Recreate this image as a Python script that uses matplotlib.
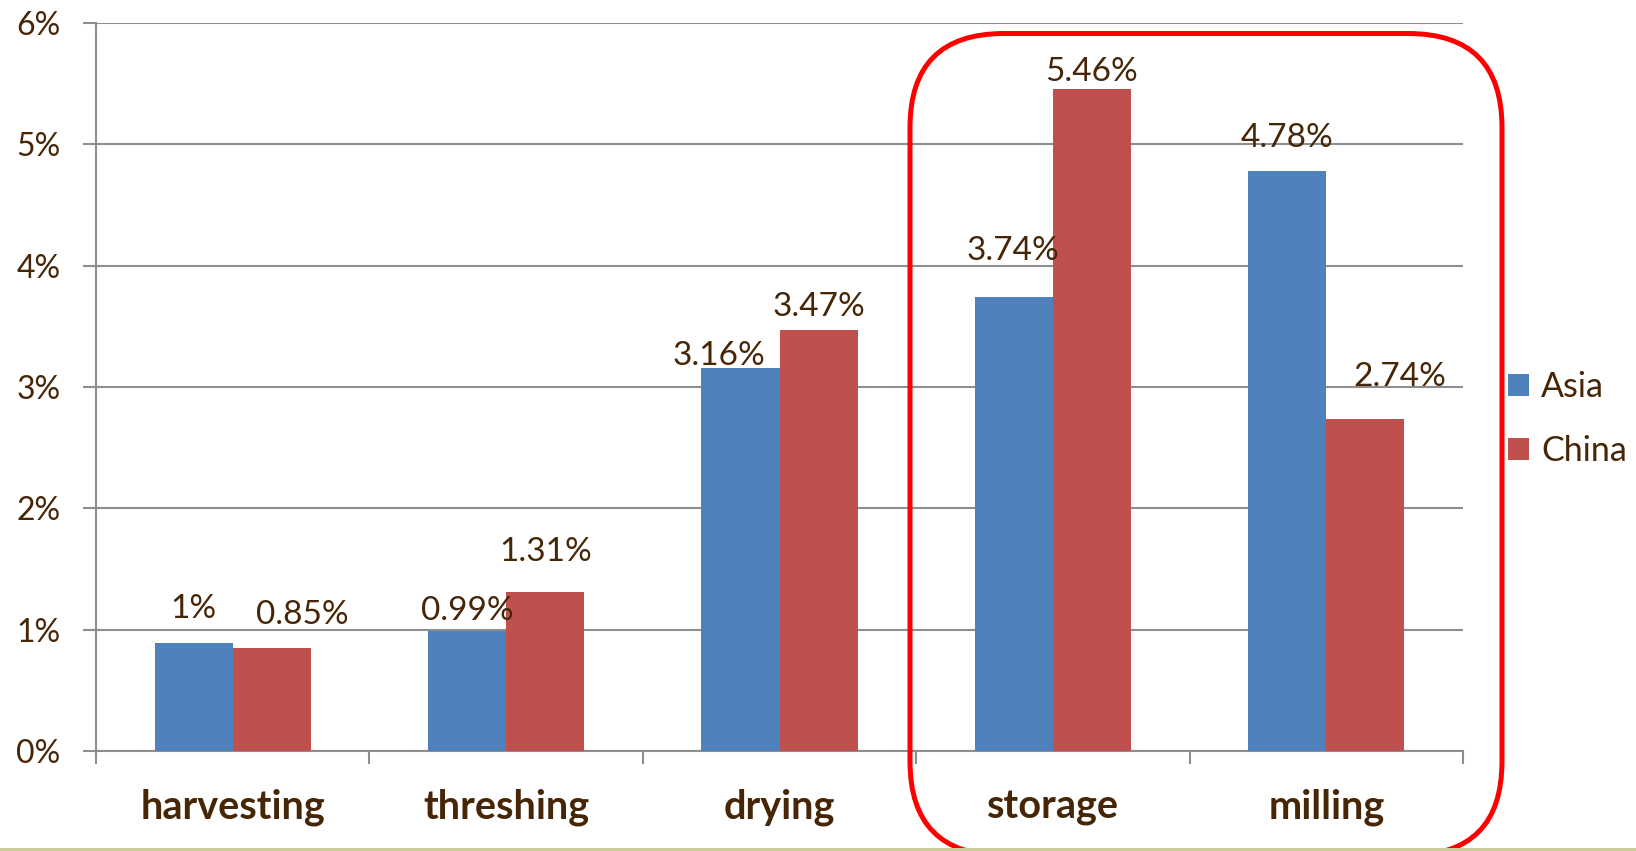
import matplotlib
matplotlib.use('Agg')
import matplotlib.pyplot as plt
import numpy as np
from matplotlib.patches import FancyBboxPatch, Rectangle
from matplotlib.transforms import IdentityTransform
from matplotlib.ticker import FuncFormatter

stages = ['harvesting', 'threshing', 'drying', 'storage', 'milling']
asia = [0.89, 0.99, 3.16, 3.74, 4.78]
china = [0.85, 1.31, 3.47, 5.46, 2.74]
series_names = ['Asia', 'China']
y_ticks = [0, 1, 2, 3, 4, 5, 6]

# decimals shown in each data label
asia_decimals = [0, 2, 2, 2, 2]
china_decimals = [2, 2, 2, 2, 2]

# hand-placed label offsets (pixels from bar top centre)
asia_offsets = [(0, 34), (0, 20), (-21, 12), (-1, 46), (0, 33)]
china_offsets = [(31, 33), (0, 40), (0, 23), (0, 17), (34, 42)]

TEXT = '#462607'
GRID = '#8e8e8e'
BLUE = '#4f81bd'
RED = '#c0504d'

plt.rcParams['font.family'] = ['Lato', 'DejaVu Sans']

W, H = 1636, 851
fig = plt.figure(figsize=(W / 100, H / 100), dpi=100)
ax = fig.add_axes([96 / W, 1 - 751 / H, (1463 - 96) / W, (751 - 23) / H])

x = np.arange(len(stages))
bw = 0.286
b1 = ax.bar(x - bw / 2, asia, bw, color=BLUE, label=series_names[0], zorder=3)
b2 = ax.bar(x + bw / 2, china, bw, color=RED, label=series_names[1], zorder=3)

for bars, vals, decs, offs in [(b1, asia, asia_decimals, asia_offsets),
                               (b2, china, china_decimals, china_offsets)]:
    for rect, v, d, (dx, dy) in zip(bars, vals, decs, offs):
        ax.annotate(f'{v:.{d}f}%', (rect.get_x() + rect.get_width() / 2, v),
                    xytext=(dx, dy), textcoords='offset pixels',
                    ha='center', va='center', fontsize=24, color=TEXT, zorder=4)

ax.set_xlim(-0.5, len(stages) - 0.5)
ax.set_ylim(0, 6)
ax.set_yticks(y_ticks)
ax.yaxis.set_major_formatter(FuncFormatter(lambda v, _: f'{v:.0f}%'))
ax.yaxis.grid(True, color=GRID, linewidth=1.5, zorder=0)
ax.tick_params(axis='y', length=9.5, width=1.5, color=GRID, pad=16,
               labelsize=23, labelcolor=TEXT)

ax.set_xticks(x)
ax.set_xticklabels(stages, fontsize=28.5, fontweight='bold', color=TEXT)
ax.set_xticks(np.arange(-0.5, len(stages)), minor=True)
ax.tick_params(axis='x', which='major', length=0, pad=27)
ax.tick_params(axis='x', which='minor', length=9.5, width=1.5, color=GRID)

for side in ['top', 'right']:
    ax.spines[side].set_visible(False)
for side in ['left', 'bottom']:
    ax.spines[side].set_color(GRID)
    ax.spines[side].set_linewidth(1.5)

ax.legend(loc='center left', bbox_to_anchor=(1508 / W, 1 - 419 / H),
          bbox_transform=fig.transFigure, frameon=False, fontsize=24.5,
          labelcolor=TEXT, handlelength=0.62, handleheight=0.62,
          handletextpad=0.35, labelspacing=0.95, borderaxespad=0, borderpad=0)

# highlight box and bottom strip, in figure pixels (origin bottom-left)
px = IdentityTransform()
fig.add_artist(FancyBboxPatch((910, -4.5), 1502 - 910, H - 33.5 + 4.5,
                              boxstyle='round,pad=0,rounding_size=94',
                              fill=False, edgecolor='#ff0000', linewidth=3.6,
                              transform=px, zorder=10))
fig.add_artist(Rectangle((0, 0), W, 3.5, color='#cccc99', linewidth=0,
                         transform=px, zorder=11))

fig.savefig('out.png', dpi=100)
